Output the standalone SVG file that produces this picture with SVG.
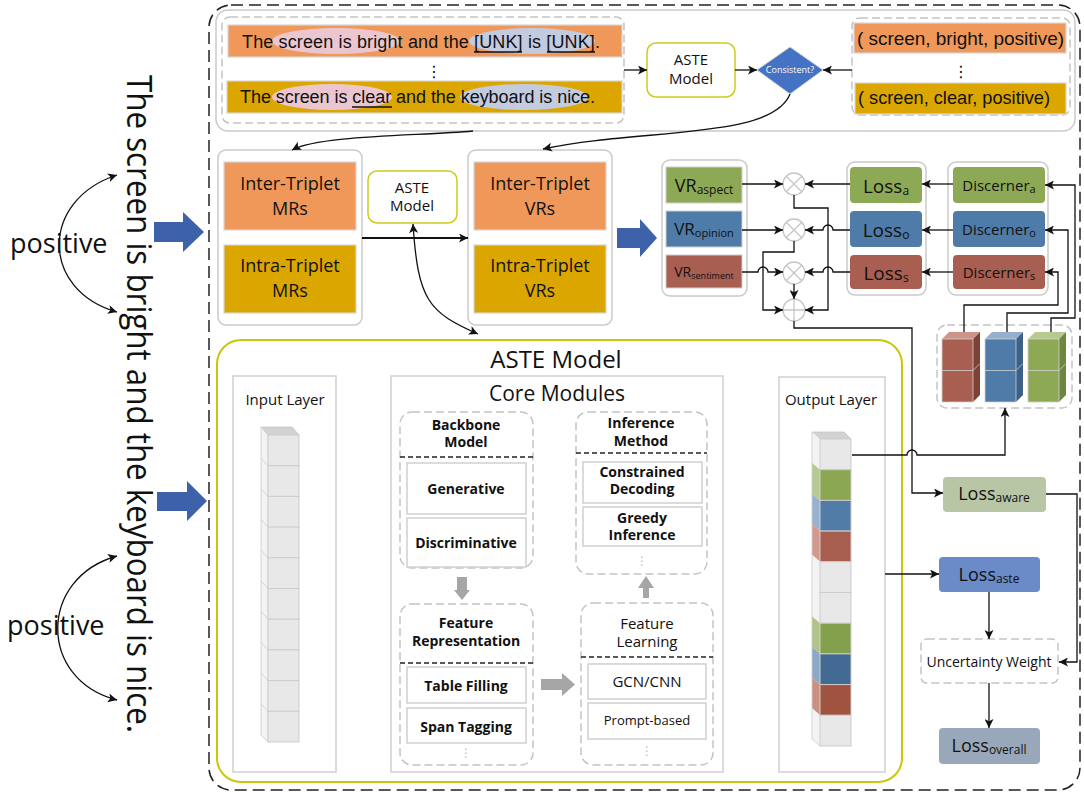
<svg xmlns="http://www.w3.org/2000/svg" width="1084" height="794" viewBox="0 0 1084 794">
<defs>
<style>
.t{font-family:"Open Sans","Noto Sans","DejaVu Sans",sans-serif;fill:#111;text-anchor:middle}
.b{font-weight:bold}
.cm{font-family:"Liberation Sans","DejaVu Sans",sans-serif;fill:#111}
.gbox{fill:#fff;stroke:#cacaca;stroke-width:1.5}
.dbox{fill:#fff;stroke:#c4c4c4;stroke-width:1.5;stroke-dasharray:8 4}
.ibox{fill:#fff;stroke:#cfcfcf;stroke-width:1.5}
.orange{fill:#f0985a;stroke:#d6d6d6;stroke-width:1.2}
.gold{fill:#dca600;stroke:#d6d6d6;stroke-width:1.2}
.green{fill:#8ea956}
.blu{fill:#4f7ba8}
.red{fill:#a85e50}
.ul{stroke:#111;stroke-width:1.3}
.ca{fill:none;stroke:#111;stroke-width:1.3;marker-end:url(#ah)}
.div{stroke:#222;stroke-width:1.3;stroke-dasharray:5 3}
.barr{fill:#3e62aa}
.garr{fill:#a6a6a6}
.circ{fill:#fff;stroke:#c6c6c6;stroke-width:1.3}
.cx{stroke:#c6c6c6;stroke-width:1.3}
.cell{stroke:#cdcdcd;stroke-width:1}
.dots{font-family:"DejaVu Sans",sans-serif;text-anchor:middle}
</style>
<marker id="ah" viewBox="0 0 10 10" refX="10" refY="5" markerWidth="10" markerHeight="9" markerUnits="userSpaceOnUse" orient="auto-start-reverse">
<path d="M0,0 L10,5 L0,10 L2.5,5 z" fill="#111"/>
</marker>
</defs>
<rect width="1084" height="794" fill="#fff"/>

<!-- outer dashed frame -->
<rect x="209" y="5" width="871" height="785" rx="22" fill="none" stroke="#222" stroke-width="1.5" stroke-dasharray="12 6"/>

<!-- left sentence -->
<g id="left-sentence">
<text class="t" style="text-anchor:start" font-size="34" transform="translate(127,75) rotate(90)" textLength="658" lengthAdjust="spacingAndGlyphs">The screen is bright and the keyboard is nice.</text>
<text class="t" style="text-anchor:start" x="10" y="253" font-size="27">positive</text>
<text class="t" style="text-anchor:start" x="7" y="635" font-size="27">positive</text>
</g>

<!-- top region -->
<g id="top-panel">
<rect x="216" y="10" width="859" height="121" rx="12" class="gbox"/>
</g>
<g id="sentences">
<rect x="222" y="17" width="402" height="106" rx="8" class="dbox"/>
<rect x="228" y="25" width="394" height="32" class="orange"/>
<ellipse cx="336" cy="41" rx="64" ry="13" fill="#ecc6cf"/>
<ellipse cx="532" cy="41" rx="63" ry="13" fill="#c3cbdf"/>
<text class="cm" x="242" y="48" font-size="18" textLength="358">The screen is bright and the [UNK] is [UNK].</text>
<line class="ul" x1="474" y1="52" x2="522" y2="52"/>
<line class="ul" x1="547" y1="52" x2="595" y2="52"/>
<text class="dots" x="434" y="77" font-size="16" fill="#111">⋮</text>
<rect x="227" y="81" width="395" height="32" class="gold"/>
<ellipse cx="332" cy="97" rx="60" ry="13" fill="#ecc6cf"/>
<ellipse cx="524" cy="97" rx="64" ry="13" fill="#c3cbdf"/>
<text class="cm" x="240" y="103" font-size="18" textLength="355">The screen is clear and the keyboard is nice.</text>
<line class="ul" x1="352" y1="107" x2="392" y2="107"/>
</g>
<g id="aste-top">
<rect x="647" y="43" width="88" height="54" rx="9" fill="#fff" stroke="#cccc1e" stroke-width="1.5"/>
<text class="t" x="691" y="65" font-size="15">ASTE</text>
<text class="t" x="691" y="84" font-size="15">Model</text>
</g>
<g id="consistent">
<polygon points="790,47 823,70 790,94 757,70" fill="#4472c4" stroke="#d0d0d0" stroke-width="1"/>
<text class="t" x="790" y="73" font-size="9" style="fill:#fff">Consistent?</text>
</g>
<g id="triplets">
<rect x="852" y="18" width="218" height="97" rx="8" class="dbox"/>
<rect x="854" y="23" width="212" height="30" class="orange"/>
<text class="cm" x="857" y="45" font-size="19" textLength="207">( screen, bright, positive)</text>
<text class="dots" x="961" y="77" font-size="16" fill="#111">⋮</text>
<rect x="855" y="83" width="211" height="31" class="gold"/>
<text class="cm" x="858" y="104" font-size="19" textLength="192" lengthAdjust="spacingAndGlyphs">( screen, clear, positive)</text>
</g>

<!-- middle -->
<g id="mrs">
<rect x="218" y="150" width="144" height="175" rx="8" class="gbox"/>
<rect x="224" y="162" width="132" height="68" class="orange"/>
<text class="t" x="290" y="190" font-size="18">Inter-Triplet</text>
<text class="t" x="290" y="215" font-size="18">MRs</text>
<rect x="224" y="245" width="132" height="68" class="gold"/>
<text class="t" x="290" y="272" font-size="18">Intra-Triplet</text>
<text class="t" x="290" y="297" font-size="18">MRs</text>
</g>
<g id="aste-mid">
<rect x="368" y="171" width="89" height="52" rx="9" fill="#fff" stroke="#cccc1e" stroke-width="1.5"/>
<text class="t" x="412" y="193" font-size="15">ASTE</text>
<text class="t" x="412" y="211" font-size="15">Model</text>
</g>
<g id="vrs">
<rect x="468" y="150" width="144" height="175" rx="8" class="gbox"/>
<rect x="474" y="162" width="132" height="68" class="orange"/>
<text class="t" x="540" y="190" font-size="18">Inter-Triplet</text>
<text class="t" x="540" y="215" font-size="18">VRs</text>
<rect x="474" y="245" width="132" height="68" class="gold"/>
<text class="t" x="540" y="272" font-size="18">Intra-Triplet</text>
<text class="t" x="540" y="297" font-size="18">VRs</text>
</g>

<!-- block arrows -->
<g id="block-arrows">
<path class="barr" d="M154,222 H183 V212 L204,232 L183,252 V242 H154 Z"/>
<path class="barr" d="M157,492 H187 V481 L207,501 L187,521 V511 H157 Z"/>
<path class="barr" d="M617,228 H640 V219 L657,238 L640,257 V248 H617 Z"/>
<path class="barr" d="M340,582 H369 V572 L390,593 L369,613 V603 H340 Z"/>
<path class="barr" d="M731,580 H750 V570 L770,590 L750,611 V601 H731 Z"/>
</g>

<!-- VR group -->
<g id="vr-group">
<rect x="662" y="160" width="85" height="136" rx="8" class="gbox"/>
<rect x="666" y="167" width="76" height="36" class="green" stroke="#d0d0d0"/>
<text class="t" x="704" y="192"><tspan font-size="18">VR</tspan><tspan font-size="12" dy="2">aspect</tspan></text>
<rect x="666" y="211" width="76" height="36" class="blu" stroke="#d0d0d0"/>
<text class="t" x="704" y="235"><tspan font-size="17">VR</tspan><tspan font-size="11" dy="2">opinion</tspan></text>
<rect x="666" y="255" width="76" height="33" class="red" stroke="#d0d0d0"/>
<text class="t" x="704" y="277"><tspan font-size="14">VR</tspan><tspan font-size="9" dy="2">sentiment</tspan></text>
</g>
<g id="ops">
<circle cx="794" cy="184" r="11" class="circ"/><path class="cx" d="M786.2,176.2 L801.8,191.8 M801.8,176.2 L786.2,191.8"/>
<circle cx="794" cy="230" r="11" class="circ"/><path class="cx" d="M786.2,222.2 L801.8,237.8 M801.8,222.2 L786.2,237.8"/>
<circle cx="794" cy="273" r="11" class="circ"/><path class="cx" d="M786.2,265.2 L801.8,280.8 M801.8,265.2 L786.2,280.8"/>
<circle cx="794" cy="310" r="11" class="circ"/><path class="cx" d="M783,310 H805 M794,299 V321"/>
</g>
<g id="loss-group">
<rect x="847" y="162" width="79" height="133" rx="8" class="gbox"/>
<rect x="850" y="167" width="72" height="36" rx="4" class="green"/>
<text class="t" x="886" y="193"><tspan font-size="19">Loss</tspan><tspan font-size="12" dy="2">a</tspan></text>
<rect x="850" y="211" width="72" height="36" rx="4" class="blu"/>
<text class="t" x="886" y="237"><tspan font-size="19">Loss</tspan><tspan font-size="12" dy="2">o</tspan></text>
<rect x="850" y="255" width="72" height="34" rx="4" class="red"/>
<text class="t" x="886" y="280"><tspan font-size="19">Loss</tspan><tspan font-size="12" dy="2">s</tspan></text>
</g>
<g id="discerner-group">
<rect x="948" y="162" width="100" height="133" rx="8" class="gbox"/>
<rect x="953" y="167" width="92" height="36" rx="4" class="green"/>
<text class="t" x="999" y="191"><tspan font-size="15">Discerner</tspan><tspan font-size="11" dy="2">a</tspan></text>
<rect x="953" y="211" width="92" height="36" rx="4" class="blu"/>
<text class="t" x="999" y="235"><tspan font-size="15">Discerner</tspan><tspan font-size="11" dy="2">o</tspan></text>
<rect x="953" y="255" width="92" height="34" rx="4" class="red"/>
<text class="t" x="999" y="278"><tspan font-size="15">Discerner</tspan><tspan font-size="11" dy="2">s</tspan></text>
</g>
<g id="cubes">
<rect x="937" y="325" width="135" height="83" rx="10" class="dbox"/>
<polygon points="942,339 949,332 980,332 973,339" fill="#cf9488"/>
<polygon points="973,339 980,332 980,395 973,402" fill="#7d4236"/>
<rect x="942" y="339" width="31" height="63" fill="#a85e50" stroke="#d0d0d0" stroke-width="0.8"/>
<path d="M942,370.5 H973 L980,363.5" stroke="#d0d0d0" stroke-width="0.8" fill="none"/>
<polygon points="985,339 992,332 1023,332 1016,339" fill="#93b0cf"/>
<polygon points="1016,339 1023,332 1023,395 1016,402" fill="#3c6088"/>
<rect x="985" y="339" width="31" height="63" fill="#4f7ba8" stroke="#d0d0d0" stroke-width="0.8"/>
<path d="M985,370.5 H1016 L1023,363.5" stroke="#d0d0d0" stroke-width="0.8" fill="none"/>
<polygon points="1028,339 1035,332 1066,332 1059,339" fill="#b7ca8e"/>
<polygon points="1059,339 1066,332 1066,395 1059,402" fill="#6d8740"/>
<rect x="1028" y="339" width="31" height="63" fill="#8ea956" stroke="#d0d0d0" stroke-width="0.8"/>
<path d="M1028,370.5 H1059 L1066,363.5" stroke="#d0d0d0" stroke-width="0.8" fill="none"/>
</g>

<!-- losses right -->
<g id="loss-aware">
<rect x="943" y="477" width="103" height="35" rx="4" fill="#b9c6a6"/>
<text class="t" x="994" y="500"><tspan font-size="18">Loss</tspan><tspan font-size="12" dy="2">aware</tspan></text>
</g>
<g id="loss-aste">
<rect x="939" y="557" width="101" height="35" rx="4" fill="#6b8ac8"/>
<text class="t" x="989" y="581"><tspan font-size="18">Loss</tspan><tspan font-size="12" dy="2">aste</tspan></text>
</g>
<g id="uncertainty">
<rect x="921" y="639" width="137" height="44" rx="6" class="dbox"/>
<text class="t" x="989" y="667" font-size="14">Uncertainty Weight</text>
</g>
<g id="loss-overall">
<rect x="939" y="728" width="101" height="36" rx="4" fill="#98a8ba"/>
<text class="t" x="989" y="752"><tspan font-size="18">Loss</tspan><tspan font-size="12" dy="2">overall</tspan></text>
</g>

<!-- ASTE model big -->
<g id="aste-model">
<rect x="217" y="340" width="685" height="442" rx="24" fill="#fff" stroke="#c9c60c" stroke-width="2"/>
<text class="t" x="556" y="368" font-size="24">ASTE Model</text>
</g>
<g id="input-layer">
<rect x="233" y="376" width="103" height="396" class="ibox"/>
<text class="t" x="285" y="405" font-size="15">Input Layer</text>
<polygon points="261,427 292,427 299,435 268,435" fill="#d2d2d2" stroke="#c6c6c6" stroke-width="0.8"/>
<polygon points="261,427 268,435 268,742 261,735" fill="#f3f3f3" stroke="#cdcdcd" stroke-width="0.8"/>
<path d="M261,458.2 L268,465.7 M261,488.9 L268,496.4 M261,519.6 L268,527.1 M261,550.3 L268,557.8 M261,581 L268,588.5 M261,611.7 L268,619.2 M261,642.4 L268,649.9 M261,673.1 L268,680.6 M261,703.8 L268,711.3" stroke="#cdcdcd" stroke-width="0.8"/>
<g class="cell" fill="#e8e8e8">
<rect x="268" y="435" width="31" height="30.7"/>
<rect x="268" y="465.7" width="31" height="30.7"/>
<rect x="268" y="496.4" width="31" height="30.7"/>
<rect x="268" y="527.1" width="31" height="30.7"/>
<rect x="268" y="557.8" width="31" height="30.7"/>
<rect x="268" y="588.5" width="31" height="30.7"/>
<rect x="268" y="619.2" width="31" height="30.7"/>
<rect x="268" y="649.9" width="31" height="30.7"/>
<rect x="268" y="680.6" width="31" height="30.7"/>
<rect x="268" y="711.3" width="31" height="30.7"/>
</g>
</g>

<g id="core-modules">
<rect x="391" y="376" width="332" height="396" class="ibox"/>
<text class="t" x="557" y="401" font-size="21">Core Modules</text>
</g>
<g id="backbone">
<rect x="400" y="412" width="133" height="156" rx="12" class="dbox" style="fill:none"/>
<text class="t b" x="466" y="430" font-size="14">Backbone</text>
<text class="t b" x="466" y="447" font-size="14">Model</text>
<line x1="400" y1="457" x2="533" y2="457" class="div"/>
<rect x="407" y="463" width="119" height="51" class="ibox"/>
<text class="t b" x="466" y="494" font-size="14">Generative</text>
<rect x="407" y="518" width="119" height="49" class="ibox"/>
<text class="t b" x="466" y="548" font-size="14">Discriminative</text>
</g>
<g id="feature-rep">
<rect x="400" y="604" width="133" height="161" rx="12" class="dbox" style="fill:none"/>
<text class="t b" x="466" y="628" font-size="14">Feature</text>
<text class="t b" x="466" y="646" font-size="14">Representation</text>
<line x1="400" y1="663" x2="533" y2="663" class="div"/>
<rect x="407" y="667" width="119" height="36" class="ibox"/>
<text class="t b" x="466" y="691" font-size="14">Table Filling</text>
<rect x="407" y="708" width="119" height="35" class="ibox"/>
<text class="t b" x="466" y="732" font-size="14">Span Tagging</text>
<text class="dots" x="466" y="757" font-size="12" fill="#bbb">⋮</text>
</g>
<g id="feature-learning">
<rect x="581" y="603" width="132" height="162" rx="12" class="dbox" style="fill:none"/>
<text class="t" x="647" y="629" font-size="15">Feature</text>
<text class="t" x="647" y="647" font-size="15">Learning</text>
<line x1="581" y1="657" x2="713" y2="657" class="div"/>
<rect x="588" y="664" width="118" height="35" class="ibox"/>
<text class="t" x="647" y="687" font-size="15">GCN/CNN</text>
<rect x="588" y="703" width="118" height="36" class="ibox"/>
<text class="t" x="647" y="725" font-size="13">Prompt-based</text>
<text class="dots" x="647" y="755" font-size="12" fill="#bbb">⋮</text>
</g>
<g id="inference">
<rect x="576" y="412" width="131" height="162" rx="12" class="dbox" style="fill:none"/>
<text class="t b" x="641" y="428" font-size="14">Inference</text>
<text class="t b" x="641" y="446" font-size="14">Method</text>
<line x1="576" y1="453" x2="707" y2="453" class="div"/>
<rect x="583" y="462" width="119" height="41" class="ibox"/>
<text class="t b" x="642" y="477" font-size="14">Constrained</text>
<text class="t b" x="642" y="494" font-size="14">Decoding</text>
<rect x="583" y="507" width="119" height="39" class="ibox"/>
<text class="t b" x="642" y="523" font-size="14">Greedy</text>
<text class="t b" x="642" y="540" font-size="14">Inference</text>
<text class="dots" x="642" y="565" font-size="12" fill="#bbb">⋮</text>
</g>
<g id="gray-arrows">
<path class="garr" d="M457,577 H467 V590 H470 L462,600 L454,590 H457 Z"/>
<path class="garr" d="M541,679 H562 V673 L575,684.5 L562,696 V690 H541 Z"/>
<path class="garr" d="M643,598 V588 H638 L646,576 L654,588 H649 V598 Z"/>
</g>

<g id="output-layer">
<rect x="779" y="377" width="106" height="395" class="ibox"/>
<text class="t" x="831" y="405" font-size="15">Output Layer</text>
<polygon points="812,432 844,432 851,439 820,439" fill="#d2d2d2" stroke="#c6c6c6" stroke-width="0.8"/>
<polygon points="812,432 820,439 820,469.7 812,462.7" fill="#f3f3f3"/>
<polygon points="812,462.7 820,469.7 820,500.4 812,493.4" fill="#b7ca8f"/>
<polygon points="812,493.4 820,500.4 820,531.1 812,524.1" fill="#96b2d0"/>
<polygon points="812,524.1 820,531.1 820,561.8 812,554.8" fill="#d29a8e"/>
<polygon points="812,554.8 820,561.8 820,592.5 812,585.5" fill="#f3f3f3"/>
<polygon points="812,585.5 820,592.5 820,623.2 812,616.2" fill="#f3f3f3"/>
<polygon points="812,616.2 820,623.2 820,653.9 812,646.9" fill="#b0c488"/>
<polygon points="812,646.9 820,653.9 820,684.6 812,677.6" fill="#8ca8c8"/>
<polygon points="812,677.6 820,684.6 820,715.3 812,708.3" fill="#cc8f82"/>
<polygon points="812,708.3 820,715.3 820,746 812,739" fill="#f3f3f3"/>
<path d="M812,432 V739 L820,746" fill="none" stroke="#cdcdcd" stroke-width="0.8"/>
<g class="cell">
<rect x="820" y="439" width="31" height="30.7" fill="#e8e8e8"/>
<rect x="820" y="469.7" width="31" height="30.7" fill="#8ba752"/>
<rect x="820" y="500.4" width="31" height="30.7" fill="#527ca8"/>
<rect x="820" y="531.1" width="31" height="30.7" fill="#a85e4e"/>
<rect x="820" y="561.8" width="31" height="30.7" fill="#e8e8e8"/>
<rect x="820" y="592.5" width="31" height="30.7" fill="#e8e8e8"/>
<rect x="820" y="623.2" width="31" height="30.7" fill="#83a14c"/>
<rect x="820" y="653.9" width="31" height="30.7" fill="#436a93"/>
<rect x="820" y="684.6" width="31" height="30.7" fill="#a0533f"/>
<rect x="820" y="715.3" width="31" height="30.7" fill="#e8e8e8"/>
</g>
</g>

<!-- connectors -->
<g id="connectors">
<path class="ca" d="M624,70 H647"/>
<path class="ca" d="M735,70 H757"/>
<path class="ca" d="M852,70 H823"/>
<path class="ca" d="M473,131 C420,136 320,135 292,150"/>
<path class="ca" d="M790,94 C772,140 640,128 543,149"/>
<path class="ca" d="M362,238 H468" style="stroke-width:2"/>
<path class="ca" d="M413,224 C418,300 428,312 478,334" style="marker-start:url(#ah)"/>
<path class="ca" d="M117,175 C40,200 40,290 117,312" style="marker-start:url(#ah)"/>
<path class="ca" d="M117,556 C38,578 38,680 117,700" style="marker-start:url(#ah)"/>

<path class="ca" d="M742,184 H783"/>
<path class="ca" d="M850,184 H805"/>
<path class="ca" d="M953,184 H922"/>
<path class="ca" d="M742,230 H783"/>
<path class="ca" d="M850,230 H833 a5,5 0 0 0 -10,0 H805"/>
<path class="ca" d="M953,230 H922"/>
<path class="ca" d="M742,272 H758 a5,5 0 0 1 10,0 H783"/>
<path class="ca" d="M850,272 H833 a5,5 0 0 0 -10,0 H805"/>
<path class="ca" d="M953,272 H922"/>
<path class="ca" d="M794,195 V208 H828 V310 H805"/>
<path class="ca" d="M794,241 V252 H763 V310 H783"/>
<path class="ca" d="M794,284 V299"/>
<path class="ca" d="M794,321 V328 H912 V493 H943"/>
<path class="ca" d="M852,455 H907 a5,5 0 0 1 10,0 H1005 V408"/>
<path class="ca" d="M964,332 V305 H1058 V272 H1045"/>
<path class="ca" d="M1007,332 V313 H1068 V230 H1045"/>
<path class="ca" d="M1051,332 V318 H1075 V185 H1045"/>
<path class="ca" d="M1046,494 H1077 V662 H1059"/>
<path class="ca" d="M885,574 H939"/>
<path class="ca" d="M989,592 V639"/>
<path class="ca" d="M989,683 V728"/>
</g>
</svg>
